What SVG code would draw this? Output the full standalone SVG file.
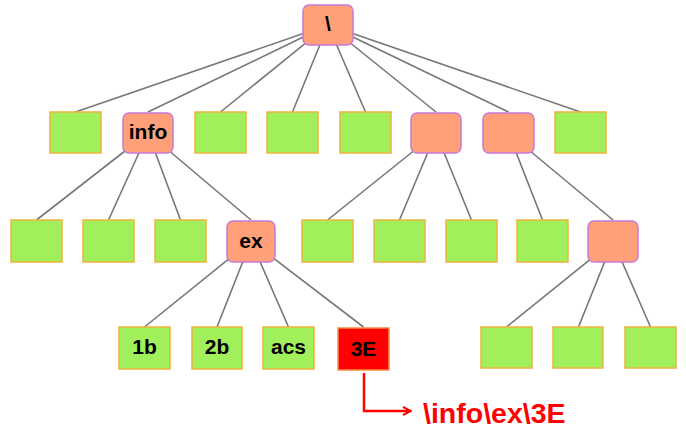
<svg xmlns="http://www.w3.org/2000/svg" width="686" height="438" viewBox="0 0 686 438">
<style>
.g{fill:#a2ef5c;stroke:#f0b43c;stroke-width:1.5}
.o{fill:#ffa078;stroke:#c878d8;stroke-width:1.5}
.r{fill:#ff0000;stroke:#ff8c3c;stroke-width:1.5}
.c line{stroke:#777;stroke-width:1.6}
text{font-family:"Liberation Sans",Arial,sans-serif;font-weight:bold;font-size:21px;fill:#000;text-anchor:middle}
</style>
<defs>
<marker id="ah" markerWidth="10" markerHeight="10" refX="9" refY="5" orient="auto" markerUnits="userSpaceOnUse">
<path d="M1,1 L9,5 L1,9" fill="none" stroke="#f00" stroke-width="2"/>
</marker>
</defs>
<rect width="686" height="438" fill="#fff"/>
<g class="c" id="connectors">
<line x1="328" y1="25" x2="75.5" y2="112"/>
<line x1="328" y1="25" x2="148" y2="112"/>
<line x1="328" y1="25" x2="220.5" y2="112"/>
<line x1="328" y1="25" x2="292.5" y2="112"/>
<line x1="328" y1="25" x2="365.5" y2="112"/>
<line x1="328" y1="25" x2="436" y2="112"/>
<line x1="328" y1="25" x2="508.5" y2="112"/>
<line x1="328" y1="25" x2="580.5" y2="112"/>
<line x1="148" y1="133" x2="36.5" y2="220"/>
<line x1="148" y1="133" x2="108.5" y2="220"/>
<line x1="148" y1="133" x2="180.5" y2="220"/>
<line x1="148" y1="133" x2="251" y2="220"/>
<line x1="436" y1="133" x2="327.5" y2="220"/>
<line x1="436" y1="133" x2="399.5" y2="220"/>
<line x1="436" y1="133" x2="471.5" y2="220"/>
<line x1="508.5" y1="133" x2="542.5" y2="220"/>
<line x1="508.5" y1="133" x2="613" y2="220"/>
<line x1="251" y1="241" x2="144.5" y2="327"/>
<line x1="251" y1="241" x2="217" y2="327"/>
<line x1="251" y1="241" x2="288.5" y2="327"/>
<line x1="251" y1="241" x2="363.5" y2="327"/>
<line x1="613" y1="241" x2="506.5" y2="327"/>
<line x1="613" y1="241" x2="578.5" y2="327"/>
<line x1="613" y1="241" x2="650.5" y2="327"/>
</g>
<g id="root"><rect class="o" x="303" y="5" width="50" height="40" rx="6"/><text x="328" y="31">\</text></g>
<g id="n1a"><rect class="g" x="50" y="112" width="51" height="41"/></g>
<g id="info"><rect class="o" x="123" y="113" width="50" height="40" rx="6"/><text x="148" y="139">info</text></g>
<g id="n1c"><rect class="g" x="195" y="112" width="51" height="41"/></g>
<g id="n1d"><rect class="g" x="267" y="112" width="51" height="41"/></g>
<g id="n1e"><rect class="g" x="340" y="112" width="51" height="41"/></g>
<g id="n1f"><rect class="o" x="411" y="113" width="50" height="40" rx="6"/></g>
<g id="n1g"><rect class="o" x="483" y="113" width="51" height="40" rx="6"/></g>
<g id="n1h"><rect class="g" x="555" y="112" width="51" height="41"/></g>
<g id="n2a"><rect class="g" x="11" y="220" width="51" height="42"/></g>
<g id="n2b"><rect class="g" x="83" y="220" width="51" height="42"/></g>
<g id="n2c"><rect class="g" x="155" y="220" width="51" height="42"/></g>
<g id="ex"><rect class="o" x="227" y="221" width="48" height="41" rx="6"/><text x="251" y="248">ex</text></g>
<g id="n2e"><rect class="g" x="302" y="220" width="51" height="42"/></g>
<g id="n2f"><rect class="g" x="374" y="220" width="51" height="42"/></g>
<g id="n2g"><rect class="g" x="446" y="220" width="51" height="42"/></g>
<g id="n2h"><rect class="g" x="517" y="220" width="51" height="42"/></g>
<g id="n2i"><rect class="o" x="588" y="221" width="50" height="41" rx="6"/></g>
<g id="n1b"><rect class="g" x="119" y="327" width="51" height="42"/><text x="144.5" y="354">1b</text></g>
<g id="n2b3"><rect class="g" x="192" y="327" width="50" height="42"/><text x="217" y="354">2b</text></g>
<g id="acs"><rect class="g" x="263" y="327" width="51" height="42"/><text x="288.5" y="354">acs</text></g>
<g id="n3E"><rect class="r" x="338" y="328" width="51" height="42"/><text x="363.5" y="356">3E</text></g>
<g id="n3e"><rect class="g" x="481" y="327" width="51" height="41"/></g>
<g id="n3f"><rect class="g" x="553" y="327" width="50" height="41"/></g>
<g id="n3g"><rect class="g" x="625" y="327" width="51" height="41"/></g>
<g id="path">
<polyline points="364,373 364,411 411,411" fill="none" stroke="#f00" stroke-width="2.5" marker-end="url(#ah)"/>
<text x="423" y="423" style="text-anchor:start;font-size:28.5px;fill:#f00">\info\ex\3E</text>
</g>
</svg>
